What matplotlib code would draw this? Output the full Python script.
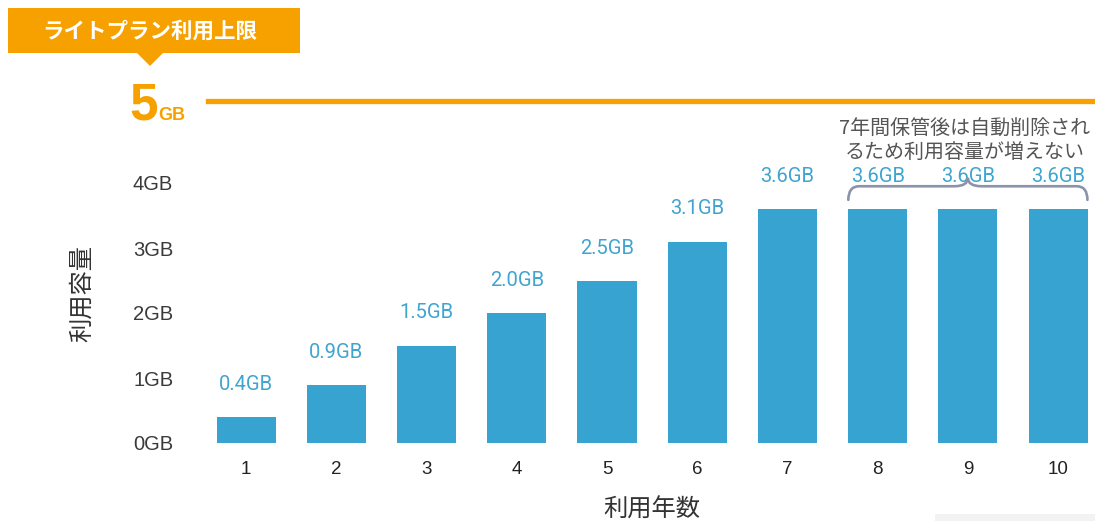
import matplotlib
matplotlib.use("Agg")
import matplotlib.pyplot as plt
from matplotlib.patches import Polygon, Rectangle
from matplotlib.path import Path
from matplotlib.patches import PathPatch
from matplotlib.lines import Line2D

plt.rcParams['font.family'] = ['Noto Sans CJK JP', 'DejaVu Sans']

# -----------------------------
# data
# -----------------------------
years = [1, 2, 3, 4, 5, 6, 7, 8, 9, 10]
usage_gb = [0.4, 0.9, 1.5, 2.0, 2.5, 3.1, 3.6, 3.6, 3.6, 3.6]
value_labels = ["0.4GB", "0.9GB", "1.5GB", "2.0GB", "2.5GB",
                "3.1GB", "3.6GB", "3.6GB", "3.6GB", "3.6GB"]
y_ticks = [0, 1, 2, 3, 4]
y_tick_labels = ["0GB", "1GB", "2GB", "3GB", "4GB"]
plan_title = "ライトプラン利用上限"
plan_limit = "5"
note_text = "7年間保管後は自動削除され\nるため利用容量が増えない"
x_title = "利用年数"
y_title = "利用容量"

BAR = "#36a3d1"
LABEL = "#3fa4cf"
ORANGE = "#f7a100"
BRACE = "#8a93aa"

W, H = 1095, 521
fig = plt.figure(figsize=(W / 100, H / 100), dpi=100)
fig.patch.set_facecolor("white")


def fx(px):
    return px / W


def fy(py):
    return 1 - py / H


ax = fig.add_axes([fx(201), fy(443), fx(1096) - fx(201), 357.5 / H])
ax.bar(years, usage_gb, width=0.655, color=BAR, zorder=2)
ax.set_xlim(0.5, 10.42)
ax.set_ylim(0, 5.5)

for s in ax.spines.values():
    s.set_visible(False)
ax.tick_params(length=0)
ax.set_yticks(y_ticks)
ax.set_yticklabels(y_tick_labels, family="Liberation Sans", fontsize=14.5, color="#3a3a3a")
ax.tick_params(axis="y", pad=20)
ax.set_xticks(years)
ax.set_xticklabels([str(y) for y in years], family="Liberation Sans", fontsize=13.5, color="#222222")
ax.tick_params(axis="x", pad=13)

# value labels above bars
for x, v, lab in zip(years, usage_gb, value_labels):
    ax.text(x, v + 0.5, lab, ha="center", va="center", family="Roboto",
            fontsize=14.5, color=LABEL)

fig.text(fx(652), fy(510), x_title, ha="center", va="center", fontsize=17.5, color="#333333")
fig.text(fx(82), fy(294), y_title, ha="center", va="center", rotation=90,
         fontsize=17.5, color="#333333")

# brace over the last three bars
x0, x1, xm = 7.675, 10.325, 9.0
yb, yh, yc = 3.74, 3.95, 4.08
r = 0.12
verts = [(x0, yb), (x0, yh), (x0 + r, yh),
         (xm - 0.15, yh), (xm, yh), (xm, yc),
         (xm, yh), (xm + 0.15, yh),
         (x1 - r, yh), (x1, yh), (x1, yb)]
codes = [Path.MOVETO, Path.CURVE3, Path.CURVE3,
         Path.LINETO, Path.CURVE3, Path.CURVE3,
         Path.CURVE3, Path.CURVE3,
         Path.LINETO, Path.CURVE3, Path.CURVE3]
ax.add_patch(PathPatch(Path(verts, codes), fill=False, edgecolor=BRACE,
                       lw=1.9, capstyle="round", zorder=3))

ax.text(8.96, 4.65, note_text, ha="center", va="center", fontsize=14.4,
        color="#555555", linespacing=1.15)

# plan limit header
box = Rectangle((fx(8), fy(53)), fx(300) - fx(8), fy(8) - fy(53),
                transform=fig.transFigure, facecolor=ORANGE, edgecolor="none")
fig.add_artist(box)
tri = Polygon([(fx(136), fy(52)), (fx(164), fy(52)), (fx(150), fy(66))],
              closed=True, transform=fig.transFigure, facecolor=ORANGE, edgecolor="none")
fig.add_artist(tri)
fig.text(fx(150), fy(31), plan_title, ha="center", va="center", fontsize=15.5,
         fontweight="bold", color="white")

fig.text(fx(129), fy(120), plan_limit, ha="left", va="baseline", family="Liberation Sans",
         fontsize=37, fontweight="bold", color=ORANGE)
fig.text(fx(158), fy(120), "GB", ha="left", va="baseline", family="Liberation Sans",
         fontsize=13, fontweight="bold", color=ORANGE)
fig.add_artist(Line2D([fx(208), 1.0], [fy(101), fy(101)], transform=fig.transFigure,
                      color=ORANGE, lw=3.8))

# faint strip bottom right
fig.add_artist(Rectangle((fx(935), 0), 1 - fx(935), 7 / H, transform=fig.transFigure,
                         facecolor="#f2f2f2", edgecolor="none"))

fig.savefig("out.png", dpi=100, facecolor="white")
